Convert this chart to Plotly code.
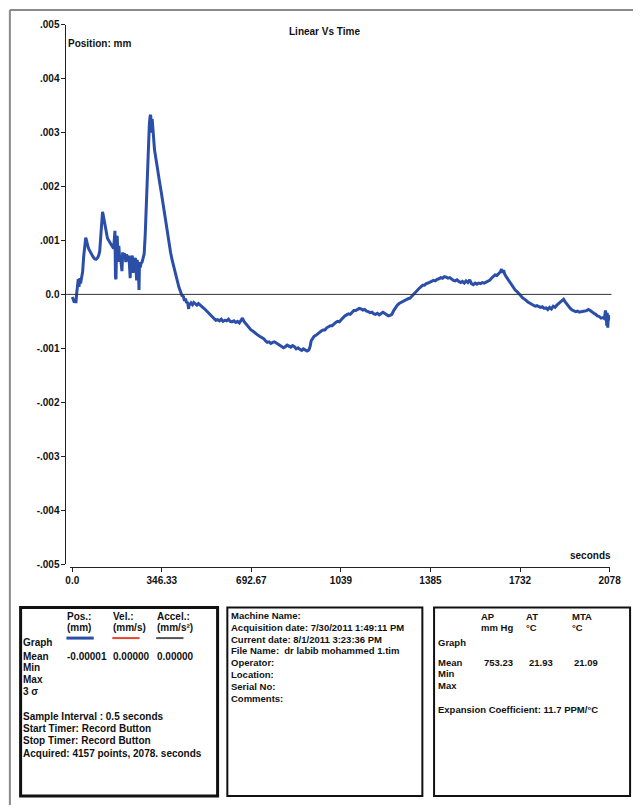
import plotly.graph_objects as go

# ---- acquired trace: time (s) and linear position (mm) ----
time_s = [
    0, 4, 8, 11, 14, 17, 20, 23, 26, 29, 32, 36, 40, 44, 48, 52, 55, 58, 62, 66,
    70, 75, 80, 86, 92, 98, 102, 106, 110, 114, 117, 120, 123, 127, 131, 136, 141, 146, 151, 156,
    160, 163, 165, 167, 169, 172, 174, 177, 180, 183, 186, 189, 192, 195, 198, 201, 204, 207, 210, 213,
    216, 219, 222, 224, 226, 229, 232, 235, 238, 241, 244, 247, 249, 251, 253, 256, 258, 260, 263, 266,
    270, 274, 278, 282, 286, 290, 294, 298, 301, 303, 305, 307, 309, 311, 314, 318, 324, 330, 337, 344,
    350, 356, 362, 368, 374, 380, 387, 394, 400, 406, 412, 418, 424, 430, 434, 438, 442, 446, 450, 452,
    456, 460, 465, 470, 476, 482, 488, 494, 500, 507, 514, 520, 527, 534, 541, 548, 555, 562, 569, 576,
    583, 590, 597, 604, 611, 618, 625, 632, 639, 646, 652, 658, 664, 670, 677, 684, 691, 698, 705, 712,
    719, 726, 733, 740, 747, 754, 761, 768, 775, 782, 789, 796, 803, 810, 817, 824, 831, 838, 845, 852,
    859, 866, 873, 880, 887, 894, 901, 908, 915, 920, 924, 929, 935, 942, 949, 956, 963, 970, 977, 984,
    991, 998, 1005, 1012, 1019, 1026, 1033, 1040, 1047, 1054, 1061, 1068, 1075, 1082, 1089, 1096, 1103, 1110, 1117, 1124,
    1131, 1138, 1145, 1152, 1159, 1166, 1173, 1180, 1187, 1194, 1201, 1208, 1215, 1222, 1229, 1236, 1243, 1250, 1257, 1264,
    1271, 1278, 1285, 1292, 1299, 1306, 1313, 1320, 1327, 1334, 1341, 1348, 1355, 1362, 1369, 1376, 1383, 1390, 1397, 1404,
    1411, 1418, 1425, 1432, 1439, 1446, 1453, 1460, 1467, 1474, 1481, 1488, 1495, 1502, 1509, 1516, 1523, 1530, 1537, 1544,
    1551, 1558, 1565, 1572, 1579, 1586, 1593, 1600, 1607, 1614, 1621, 1628, 1635, 1642, 1649, 1656, 1660, 1664, 1668, 1672,
    1678, 1685, 1692, 1699, 1706, 1713, 1720, 1727, 1734, 1741, 1748, 1755, 1762, 1769, 1776, 1783, 1790, 1797, 1804, 1811,
    1818, 1825, 1832, 1839, 1846, 1853, 1860, 1867, 1874, 1881, 1888, 1895, 1900, 1905, 1912, 1919, 1926, 1933, 1940, 1947,
    1954, 1961, 1968, 1975, 1982, 1989, 1996, 2003, 2010, 2017, 2024, 2031, 2038, 2045, 2052, 2058, 2062, 2065, 2067, 2069,
    2071, 2073, 2075, 2078,
]
position_mm = [
    -0.00005, -0.00012, -0.00015, -0.00008, -0.00016, 0.00002, 0.00012, 0.00028, 0.00014, 0.00030,
    0.00020, 0.00033, 0.00042, 0.00070, 0.00092, 0.00105, 0.00100, 0.00092, 0.00086, 0.00082,
    0.00078, 0.00074, 0.00070, 0.00066, 0.00065, 0.00068, 0.00072, 0.00080, 0.00115, 0.00140,
    0.00153, 0.00146, 0.00138, 0.00124, 0.00110, 0.00104, 0.00100, 0.00095, 0.00093, 0.00088,
    0.00085, 0.00115, 0.00118, 0.00032, 0.00028, 0.00108, 0.00106, 0.00060, 0.00090, 0.00068,
    0.00072, 0.00058, 0.00043, 0.00078, 0.00066, 0.00076, 0.00072, 0.00060, 0.00074, 0.00070,
    0.00062, 0.00072, 0.00034, 0.00030, 0.00070, 0.00062, 0.00072, 0.00040, 0.00064, 0.00052,
    0.00068, 0.00030, 0.00026, 0.00064, 0.00055, 0.00045, 0.00008, 0.00060, 0.00050, 0.00058,
    0.00060, 0.00068, 0.00075, 0.00110, 0.00170, 0.00230, 0.00280, 0.00315, 0.00330, 0.00333,
    0.00322, 0.00300, 0.00325, 0.00310, 0.00285, 0.00268, 0.00250, 0.00228, 0.00210, 0.00190,
    0.00170, 0.00150, 0.00130, 0.00110, 0.00093, 0.00078, 0.00062, 0.00047, 0.00035, 0.00024,
    0.00014, 0.00006, -0.00002, -0.00004, -0.00012, -0.00008, -0.00016, -0.00014, -0.00027, -0.00016,
    -0.00020, -0.00016, -0.00019, -0.00015, -0.00018, -0.00020, -0.00017, -0.00019, -0.00022, -0.00025,
    -0.00028, -0.00031, -0.00034, -0.00038, -0.00042, -0.00046, -0.00048, -0.00047, -0.00049, -0.00046,
    -0.00050, -0.00048, -0.00049, -0.00046, -0.00050, -0.00051, -0.00049, -0.00052, -0.00050, -0.00053,
    -0.00048, -0.00044, -0.00050, -0.00054, -0.00059, -0.00063, -0.00066, -0.00068, -0.00071, -0.00073,
    -0.00076, -0.00078, -0.00080, -0.00082, -0.00086, -0.00089, -0.00088, -0.00091, -0.00089, -0.00088,
    -0.00090, -0.00092, -0.00095, -0.00097, -0.00099, -0.00097, -0.00094, -0.00096, -0.00098, -0.00095,
    -0.00097, -0.00101, -0.00099, -0.00102, -0.00104, -0.00101, -0.00103, -0.00105, -0.00103, -0.00096,
    -0.00086, -0.00082, -0.00078, -0.00076, -0.00073, -0.00070, -0.00068, -0.00066, -0.00066, -0.00062,
    -0.00060, -0.00058, -0.00058, -0.00054, -0.00052, -0.00050, -0.00051, -0.00047, -0.00043, -0.00040,
    -0.00038, -0.00036, -0.00037, -0.00033, -0.00030, -0.00030, -0.00028, -0.00026, -0.00027, -0.00029,
    -0.00028, -0.00031, -0.00032, -0.00034, -0.00033, -0.00036, -0.00037, -0.00035, -0.00038, -0.00036,
    -0.00033, -0.00035, -0.00038, -0.00040, -0.00039, -0.00037, -0.00030, -0.00024, -0.00020, -0.00017,
    -0.00015, -0.00013, -0.00012, -0.00010, -0.00008, -0.00007, -0.00003, 0.00001, 0.00005, 0.00009,
    0.00011, 0.00014, 0.00017, 0.00017, 0.00020, 0.00021, 0.00023, 0.00024, 0.00026, 0.00025,
    0.00028, 0.00029, 0.00031, 0.00030, 0.00033, 0.00032, 0.00030, 0.00031, 0.00028, 0.00026,
    0.00025, 0.00027, 0.00024, 0.00022, 0.00024, 0.00021, 0.00025, 0.00022, 0.00027, 0.00020,
    0.00018, 0.00021, 0.00019, 0.00021, 0.00020, 0.00022, 0.00021, 0.00023, 0.00025, 0.00026,
    0.00030, 0.00033, 0.00036, 0.00035, 0.00039, 0.00042, 0.00047, 0.00040, 0.00045, 0.00038,
    0.00033, 0.00028, 0.00022, 0.00017, 0.00012, 0.00008, 0.00005, 0.00002, -0.00002, -0.00006,
    -0.00008, -0.00011, -0.00014, -0.00016, -0.00019, -0.00020, -0.00022, -0.00021, -0.00023, -0.00024,
    -0.00023, -0.00026, -0.00025, -0.00028, -0.00024, -0.00027, -0.00022, -0.00024, -0.00020, -0.00017,
    -0.00014, -0.00012, -0.00009, -0.00013, -0.00018, -0.00022, -0.00026, -0.00029, -0.00030, -0.00032,
    -0.00031, -0.00033, -0.00032, -0.00032, -0.00031, -0.00030, -0.00028, -0.00030, -0.00033, -0.00035,
    -0.00037, -0.00040, -0.00041, -0.00044, -0.00043, -0.00045, -0.00030, -0.00040, -0.00058, -0.00034,
    -0.00062, -0.00038, -0.00048, -0.00042,
]

# ---- axis ticks ----
y_tick_vals = [0.005, 0.004, 0.003, 0.002, 0.001, 0.0, -0.001, -0.002, -0.003, -0.004, -0.005]
y_tick_text = [".005", ".004", ".003", ".002", ".001", "0.0", "-.001", "-.002", "-.003", "-.004", "-.005"]
x_tick_vals = [0, 346.33, 692.67, 1039, 1385.33, 1731.67, 2078]
x_tick_text = ["0.0", "346.33", "692.67", "1039", "1385", "1732", "2078"]

# ---- info panels ----
trace_headers = [("Pos.:", "(mm)"), ("Vel.:", "(mm/s)"), ("Accel.:", "(mm/s²)")]
trace_means = ["-0.00001", "0.00000", "0.00000"]
acq_lines = [
    "Sample Interval : 0.5 seconds",
    "Start Timer: Record Button",
    "Stop Timer: Record Button",
    "Acquired: 4157 points, 2078. seconds",
]
file_info = [
    "Machine Name:",
    "Acquisition date: 7/30/2011 1:49:11 PM",
    "Current date: 8/1/2011 3:23:36 PM",
    "File Name:  dr labib mohammed 1.tim",
    "Operator:",
    "Location:",
    "Serial No:",
    "Comments:",
]
env_headers = [("AP", "mm Hg"), ("AT", "°C"), ("MTA", "°C")]
env_means = ["753.23", "21.93", "21.09"]
expansion_text = "Expansion Coefficient: 11.7 PPM/°C"

W, H = 644, 810
FONT = "Liberation Sans"
TXT = "#111111"
BLUE = "#2b4ea8"


def px(x):
    return x / W


def py(y):
    return 1 - y / H


annotations = []


def label(text, x, y, anchor="left", size=10):
    annotations.append(dict(
        text=f"<b>{text}</b>", x=px(x), y=py(y), xref="paper", yref="paper",
        xanchor=anchor, yanchor="middle", showarrow=False, borderpad=0,
        font=dict(family=FONT, size=size, color=TXT),
    ))


fig = go.Figure()
fig.add_trace(go.Scatter(
    x=time_s, y=position_mm, mode="lines",
    line=dict(color=BLUE, width=3), showlegend=False, hoverinfo="skip",
))

# pixel geometry of the plotting area
x0_px, x_end_px = 69, 620
s_per_px = 2078 / (x_end_px - x0_px)
xa_left, xa_right = 67, 620.5

tick_font = dict(family=FONT, size=10, color=TXT, weight="bold")

fig.update_layout(
    width=W, height=H, margin=dict(l=0, r=0, t=0, b=0),
    paper_bgcolor="white", plot_bgcolor="white",
    xaxis=dict(
        domain=[px(xa_left), px(xa_right)],
        range=[(xa_left - x0_px) * s_per_px, 2078 + (xa_right - x_end_px) * s_per_px],
        anchor="free", position=py(569),
        showgrid=False, zeroline=False, showline=True, linecolor="#222", linewidth=1,
        ticks="outside", ticklen=4, tickcolor="#222",
        tickvals=x_tick_vals, ticktext=x_tick_text, tickfont=tick_font,
    ),
    yaxis=dict(
        domain=[py(566), py(20)], range=[-0.005, 0.005],
        anchor="free", position=px(62),
        showgrid=False, zeroline=False, showline=True, linecolor="#222", linewidth=1,
        ticks="outside", ticklen=4, tickcolor="#222",
        tickvals=y_tick_vals, ticktext=y_tick_text, tickfont=tick_font,
    ),
)

shapes = [
    # zero reference line across the plot
    dict(type="line", xref="paper", yref="y", x0=px(62), x1=px(622), y0=0, y1=0,
         line=dict(color="#333", width=1)),
    # page frame
    dict(type="line", xref="paper", yref="paper", x0=px(5), x1=px(5), y0=py(5), y1=py(810),
         line=dict(color="#8a8a8a", width=2)),
    dict(type="line", xref="paper", yref="paper", x0=px(5), x1=px(644), y0=py(5), y1=py(5),
         line=dict(color="#8a8a8a", width=2)),
    # info boxes
    dict(type="rect", xref="paper", yref="paper", x0=px(16), x1=px(218), y0=py(801), y1=py(610),
         line=dict(color="#111", width=3)),
    dict(type="rect", xref="paper", yref="paper", x0=px(228), x1=px(428), y0=py(801), y1=py(610),
         line=dict(color="#111", width=2)),
    dict(type="rect", xref="paper", yref="paper", x0=px(440), x1=px(641), y0=py(801), y1=py(610),
         line=dict(color="#111", width=2)),
]

# graph key lines for Pos / Vel / Accel
key_cols = [63, 110, 155]
key_colors = [BLUE, "#e8452c", "#555555"]
key_widths = [3, 2, 2]
for cx, col, wd in zip(key_cols, key_colors, key_widths):
    shapes.append(dict(type="line", xref="paper", yref="paper", x0=px(cx), x1=px(cx + 28),
                       y0=py(641), y1=py(641), line=dict(color=col, width=wd)))

# titles in the plot area
label("Linear Vs Time", 328, 27, anchor="center")
label("Position: mm", 64, 39)
label("seconds", 622, 557, anchor="right")

# left panel
for cx, (h1, h2) in zip(key_cols, trace_headers):
    label(h1, cx, 619)
    label(h2, cx, 630)
label("Graph", 17, 645)
label("Mean", 17, 660)
for cx, v in zip(key_cols, trace_means):
    label(v, cx, 660)
label("Min", 17, 671)
label("Max", 17, 683)
label("3 σ", 17, 695)
for i, t in enumerate(acq_lines):
    label(t, 17, 720 + i * 12.5)

# middle panel
for i, t in enumerate(file_info):
    label(t, 231, 618 + i * 12, size=9.5)

# right panel
env_cols = [487, 533, 580]
for cx, (h1, h2) in zip(env_cols, env_headers):
    label(h1, cx, 619, size=9.5)
    label(h2, cx, 630, size=9.5)
label("Graph", 443, 645, size=9.5)
label("Mean", 443, 666, size=9.5)
for cx, v in zip([490, 536, 582], env_means):
    label(v, cx, 666, size=9.5)
label("Min", 443, 677, size=9.5)
label("Max", 443, 689, size=9.5)
label(expansion_text, 443, 713, size=9.5)

fig.update_layout(shapes=shapes, annotations=annotations)
fig.write_html("out.html")
